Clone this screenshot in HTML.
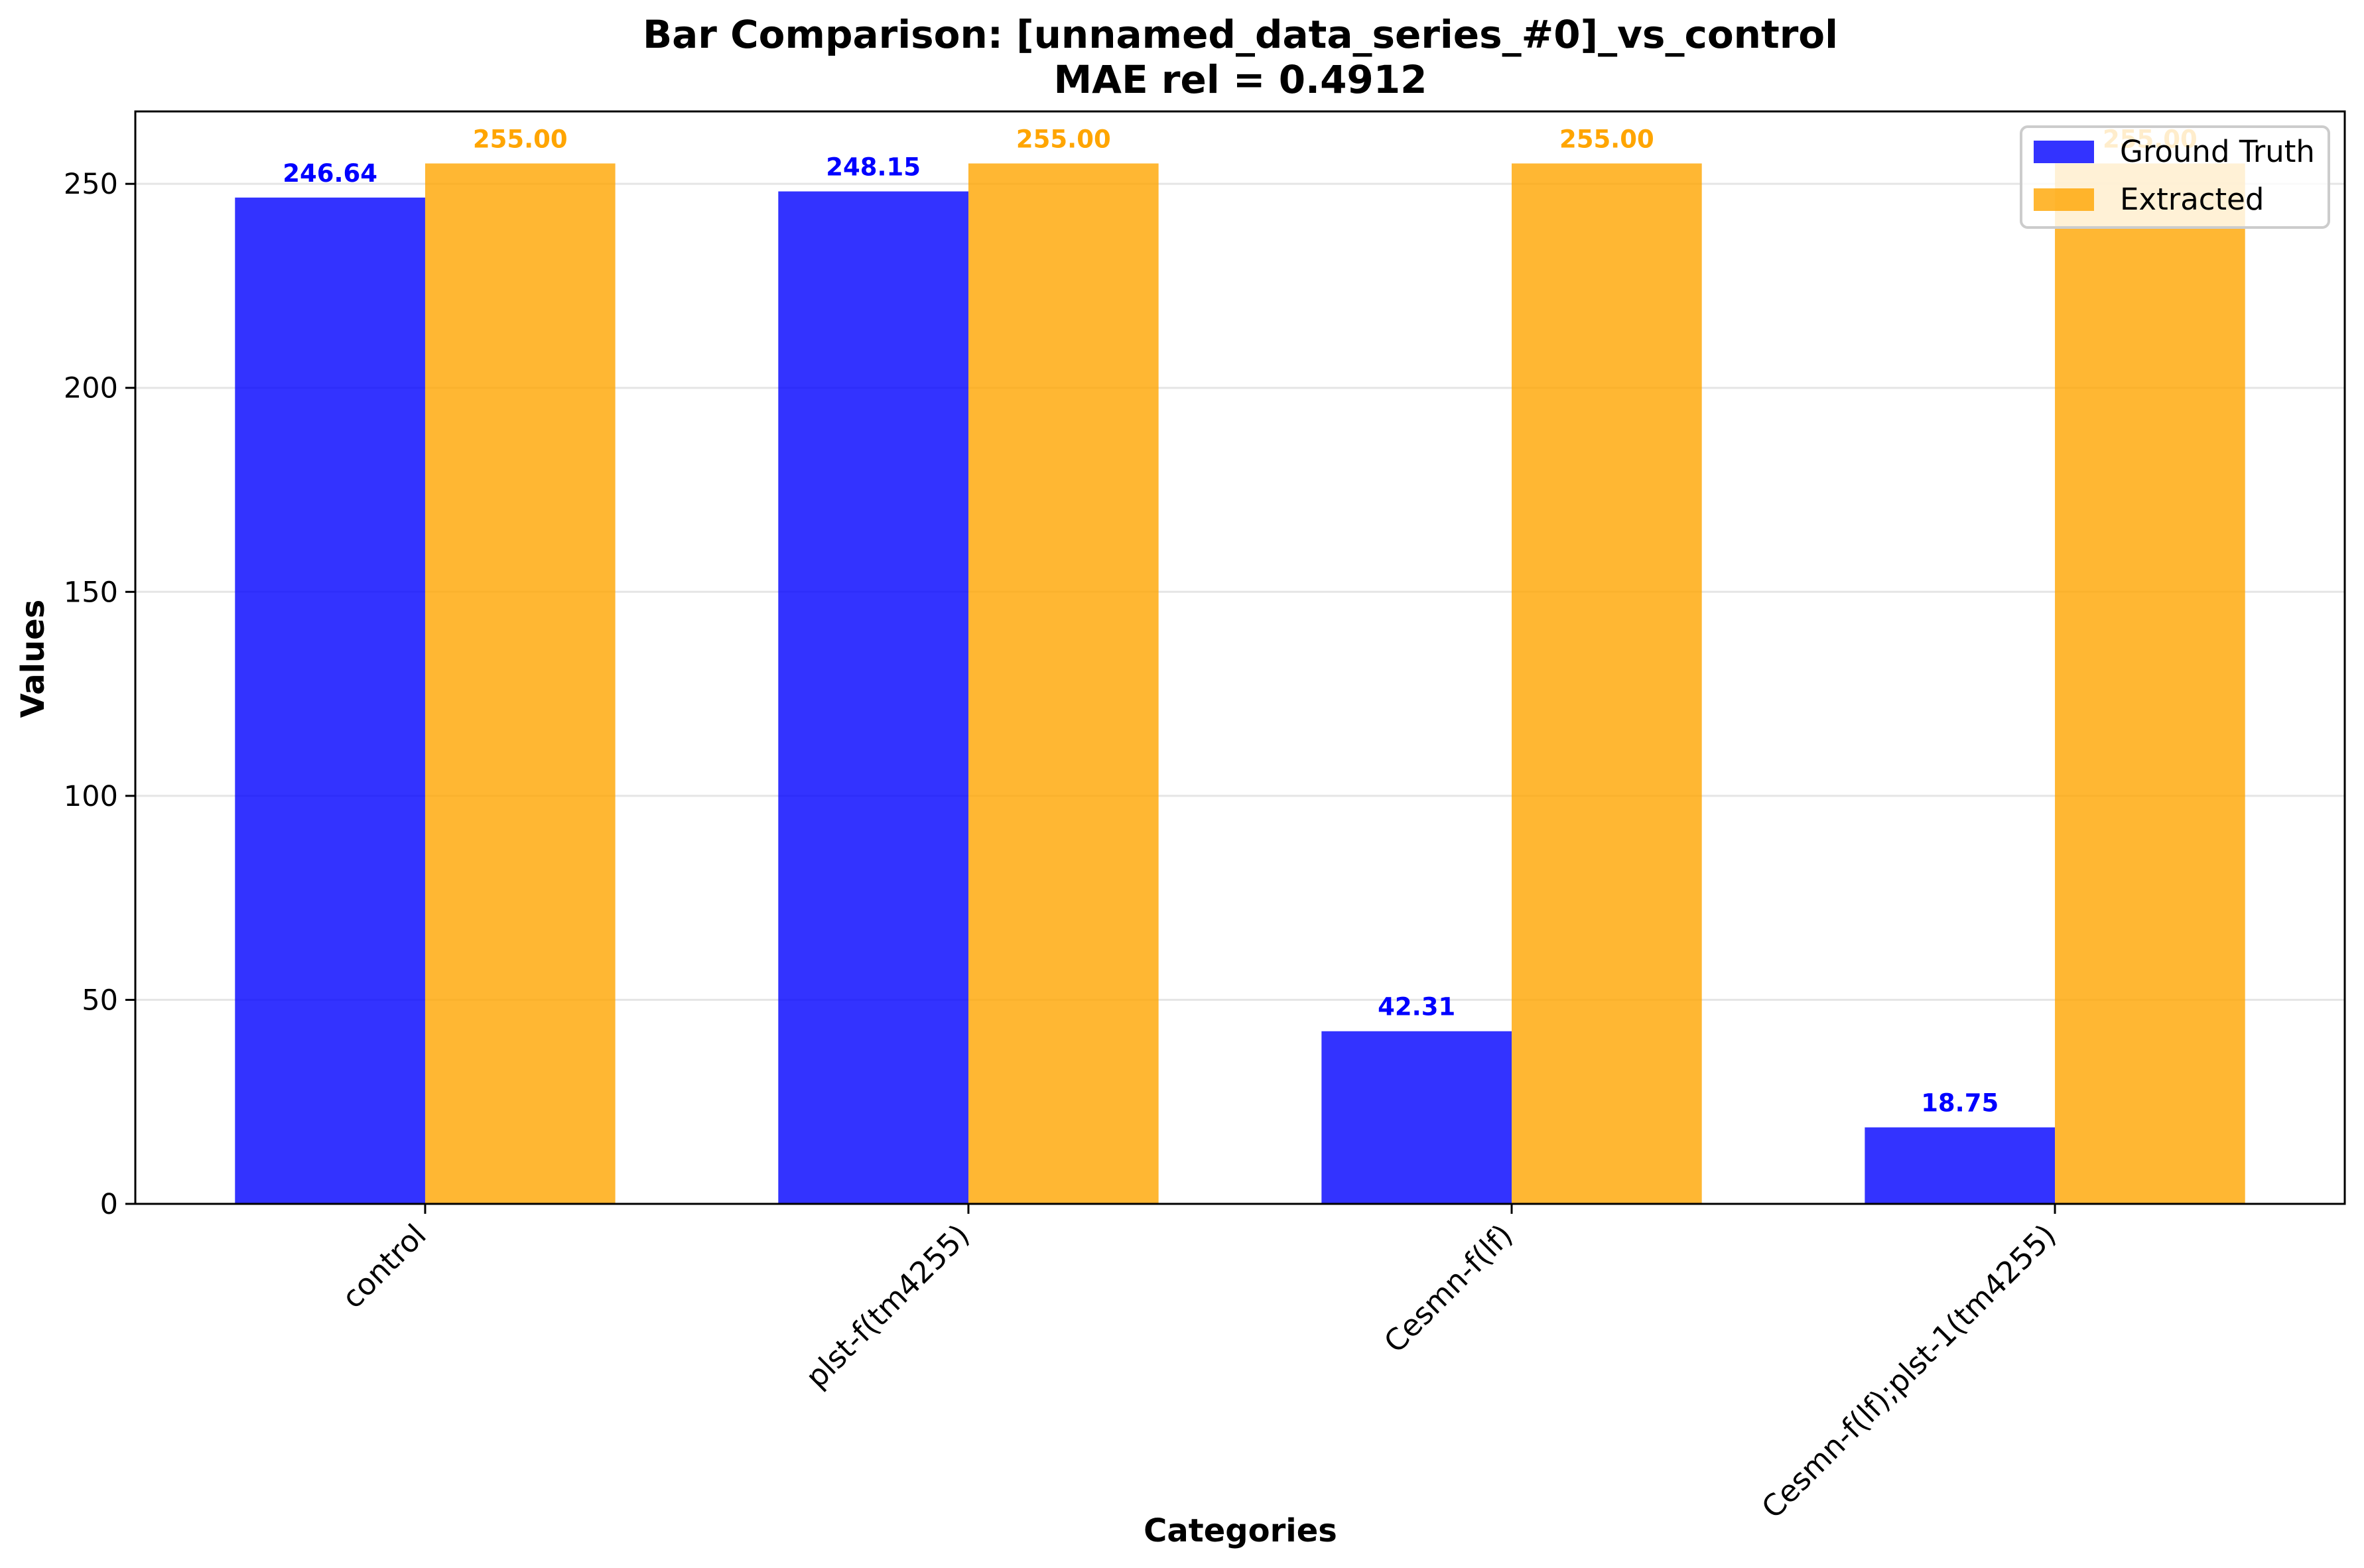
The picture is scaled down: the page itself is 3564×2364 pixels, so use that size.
<!DOCTYPE html>
<html><head><meta charset="utf-8"><style>
html,body{margin:0;padding:0;background:#fff}
svg{display:block}
text{font-family:"DejaVu Sans","Liberation Sans",sans-serif}
</style></head><body>
<svg id="chart" width="3564" height="2364" xmlns="http://www.w3.org/2000/svg">
<rect width="3564" height="2364" fill="#fff"/>
<g id="grid"></g>
<g id="bars"></g>
<g id="axes"></g>
<g id="labels"></g>
<text x="1870" y="72" text-anchor="middle" font-size="58" font-weight="bold">Bar Comparison: [unnamed_data_series_#0]_vs_control</text>
<text x="1870" y="140" text-anchor="middle" font-size="58" font-weight="bold">MAE rel = 0.4912</text>
<text x="0" y="0" transform="translate(66,993) rotate(-90)" text-anchor="middle" font-size="48" font-weight="bold">Values</text>
<text x="1870" y="2324" text-anchor="middle" font-size="48" font-weight="bold">Categories</text>
<g id="legend">
<rect x="3047" y="191" width="464" height="152" rx="10" fill="#fff" fill-opacity="0.8" stroke="#cccccc" stroke-width="4"/>
<rect x="3066" y="212" width="91" height="34" fill="#0000ff" fill-opacity="0.8"/>
<text x="3196" y="244" font-size="45">Ground Truth</text>
<rect x="3066" y="284" width="91" height="34" fill="#ffa500" fill-opacity="0.8"/>
<text x="3196" y="316" font-size="45">Extracted</text>
</g>
</svg>
<script>
const categories = ["control", "plst-f(tm4255)", "Cesmn-f(lf)", "Cesmn-f(lf);plst-1(tm4255)"];
const groundTruth = [246.64, 248.15, 42.31, 18.75];
const extracted = [255.00, 255.00, 255.00, 255.00];
const yTicks = [0, 50, 100, 150, 200, 250];

const NS = "http://www.w3.org/2000/svg";
const L = 204, R = 3535, T = 168, B = 1815;
const yMax = 267.75, xMin = -0.5335, xMax = categories.length - 0.4665;
const xs = v => L + (v - xMin) / (xMax - xMin) * (R - L);
const ys = v => B - v / yMax * (B - T);
const bw = 0.35;
function mk(tag, attrs, parent) {
  const e = document.createElementNS(NS, tag);
  for (const k in attrs) e.setAttribute(k, attrs[k]);
  parent.appendChild(e);
  return e;
}
const grid = document.getElementById('grid'), bars = document.getElementById('bars'),
      axes = document.getElementById('axes'), labels = document.getElementById('labels');

yTicks.forEach(t => {
  const y = ys(t);
  const g = mk('line', {x1: L, x2: R, y1: y, y2: y, stroke: '#000', 'stroke-opacity': 0.1, 'stroke-width': 3}, grid);
  
  
  const tk = mk('line', {x1: L - 15, x2: L, y1: y, y2: y, stroke: '#000', 'stroke-width': 3}, axes);
  
  
  const tl = mk('text', {x: L - 26, y: y + 15, 'text-anchor': 'end', 'font-size': 43}, axes);
  tl.textContent = t;
  
  
});

categories.forEach((c, i) => {
  const x0 = xs(i - bw), x1 = xs(i), x2 = xs(i + bw);
  const b1 = mk('rect', {x: x0, y: ys(groundTruth[i]), width: x1 - x0, height: B - ys(groundTruth[i]), fill: '#0000ff', 'fill-opacity': 0.8}, bars);
  
  
  const b2 = mk('rect', {x: x1, y: ys(extracted[i]), width: x2 - x1, height: B - ys(extracted[i]), fill: '#ffa500', 'fill-opacity': 0.8}, bars);
  
  
  const v1 = mk('text', {x: (x0 + x1) / 2, y: ys(groundTruth[i]) - 24, 'text-anchor': 'middle', 'font-size': 37, 'font-weight': 'bold', fill: '#0000ff'}, labels);
  v1.textContent = groundTruth[i].toFixed(2);
  
  
  const v2 = mk('text', {x: (x1 + x2) / 2, y: ys(extracted[i]) - 24, 'text-anchor': 'middle', 'font-size': 37, 'font-weight': 'bold', fill: '#ffa500'}, labels);
  v2.textContent = extracted[i].toFixed(2);
  
  
  const tk = mk('line', {x1: x1, x2: x1, y1: B, y2: B + 15, stroke: '#000', 'stroke-width': 3}, axes);
  
  
  const tl = mk('text', {x: 0, y: 0, 'text-anchor': 'end', 'font-size': 45, transform: 'translate(' + (x1 + 4) + ',' + (B + 50) + ') rotate(-45)'}, axes);
  tl.textContent = c;
  
  
});

const frame = mk('rect', {x: L, y: T, width: R - L, height: B - T, fill: 'none', stroke: '#000', 'stroke-width': 3}, axes);


document.getElementById('chart').appendChild(document.getElementById('legend'));
</script>
</body></html>
